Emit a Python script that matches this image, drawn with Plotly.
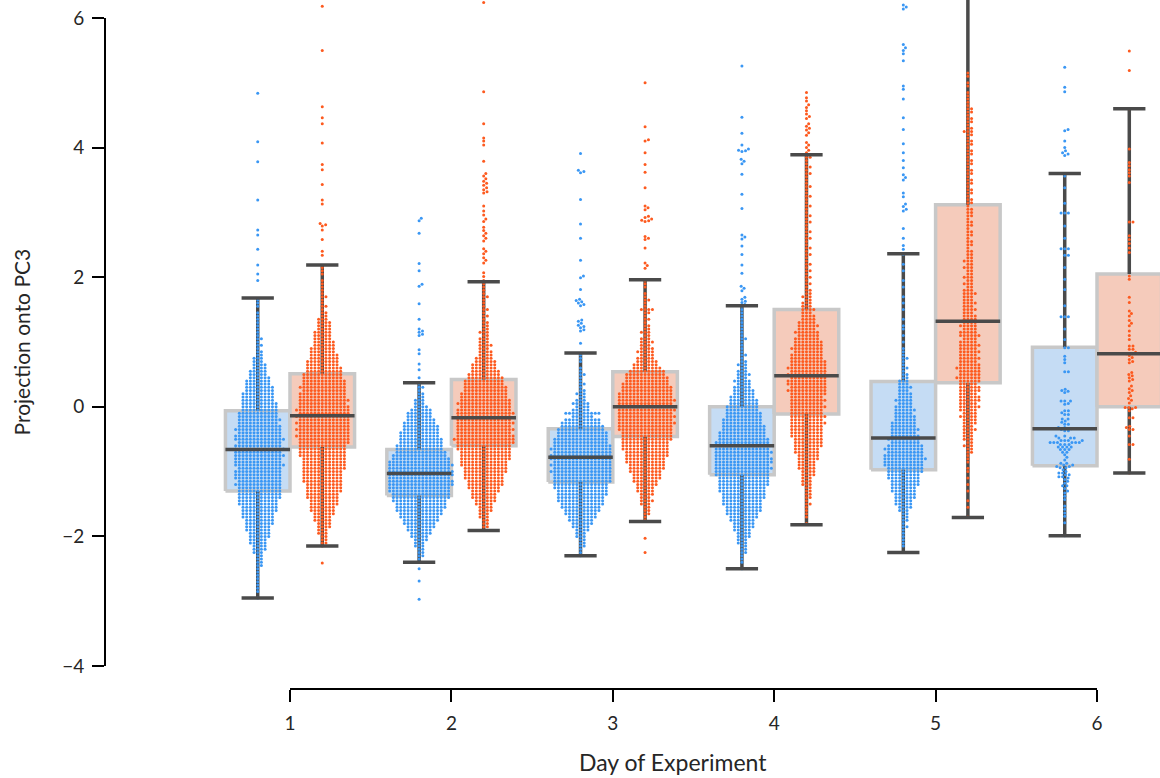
import numpy as np
import plotly.graph_objects as go

# ---------------- data ----------------
DAYS = [1, 2, 3, 4, 5, 6]
DAY_LABELS = ["1", "2", "3", "4", "5", "6"]
Y_TICKS = [-4, -2, 0, 2, 4, 6]
X_TITLE = "Day of Experiment"
Y_TITLE = "Projection onto PC3"
STEP = 0.05  # bin width of the per-bin point counts

# box statistics (blue group, orange group), days 1..6
BLUE_LOW = [-2.95, -2.40, -2.30, -2.50, -2.25, -1.99]
BLUE_Q1 = [-1.30, -1.37, -1.16, -1.05, -0.97, -0.91]
BLUE_MED = [-0.66, -1.03, -0.78, -0.60, -0.48, -0.34]
BLUE_Q3 = [-0.06, -0.66, -0.34, 0.00, 0.39, 0.92]
BLUE_HIGH = [1.68, 0.37, 0.83, 1.56, 2.36, 3.60]

ORANGE_LOW = [-2.15, -1.91, -1.77, -1.82, -1.71, -1.02]
ORANGE_Q1 = [-0.62, -0.60, -0.46, -0.11, 0.37, 0.00]
ORANGE_MED = [-0.14, -0.17, 0.00, 0.48, 1.32, 0.82]
ORANGE_Q3 = [0.51, 0.42, 0.54, 1.50, 3.12, 2.05]
ORANGE_HIGH = [2.19, 1.93, 1.96, 3.89, 7.10, 4.60]

# swarm points: counts per 0.05 bin starting at *_START, plus single points beyond
D1_BLUE_START = -2.95
D1_BLUE_COUNTS = [1, 0, 1, 1, 1, 1, 1, 1, 1, 1, 2, 2, 2, 2,
                  3, 4, 4, 5, 5, 6, 6,
                  7, 7, 8, 8, 9, 9,
                  10, 10, 11, 11, 12, 12,
                  12, 12, 13, 12, 13, 13,
                  13, 12, 14, 13, 13, 14, 13, 14, 13, 12, 14, 13,
                  12, 13, 12, 11, 12, 11, 11,
                  10, 10, 10, 9, 9,
                  9, 8, 8, 7, 7, 6,
                  5, 5, 4, 4, 3, 3,
                  2, 2, 1, 2, 1, 2, 1, 1, 1, 1, 1, 1, 1, 1, 0, 1, 1, 1]
D1_BLUE_EXTRA = [4.84, 4.09, 3.78, 3.19, 2.73, 2.65, 2.43, 2.19, 2.05, 1.95]

D1_ORANGE_START = -2.15
D1_ORANGE_COUNTS = [1, 2, 2, 2, 3,
                    3, 4, 4, 5, 5, 6,
                    7, 7, 8, 8, 9, 9,
                    10, 10, 10, 11, 11, 11,
                    11, 12, 12, 12, 12, 13, 13, 13,
                    13, 14, 14, 15, 14, 15, 14, 15, 14, 15,
                    14, 15, 14, 13, 14, 13, 13, 12, 13, 12, 12, 11, 11,
                    10, 10, 9, 9, 8,
                    8, 7, 7, 6, 6, 5, 5, 5, 4, 4, 4, 3,
                    2, 2, 1, 2, 1, 1, 2, 1, 1, 1, 1, 1, 0, 1, 1, 1]
D1_ORANGE_EXTRA = [6.18, 5.50, 4.63, 4.46, 4.37, 4.07, 3.74, 3.66, 3.43, 3.19,
                   3.13, 2.83, 2.81, 2.79, 2.73, 2.58, 2.40, 2.34, -2.41]

D2_BLUE_START = -2.40
D2_BLUE_COUNTS = [1, 1, 2, 2, 2, 3, 3, 4, 5,
                  6, 7, 8, 9, 10,
                  11, 12, 13, 14, 14, 15, 16,
                  16, 17, 17, 18, 18, 17, 18, 18, 17, 18, 17, 16, 15, 14,
                  13, 13, 12, 12, 11, 11, 10, 10, 9, 8, 7, 7, 6, 4, 3, 3, 2, 2, 1, 2, 1]
D2_BLUE_EXTRA = [-2.50, -2.69, -2.97, 2.91, 2.87, 2.68, 2.21, 2.10, 1.89, 1.86, 1.59,
                 1.35, 1.20, 1.17, 1.15, 1.12, 1.10, 0.88, 0.82, 0.66, 0.57, 0.45]

D2_ORANGE_START = -1.90
D2_ORANGE_COUNTS = [1, 2, 2, 2, 3, 3, 4, 4,
                    5, 6, 7, 7, 8, 9,
                    10, 10, 11, 11, 12, 12,
                    13, 13, 14, 14, 14, 15,
                    15, 16, 17, 16, 15, 16, 15, 16, 15,
                    15, 16, 15, 14, 15, 14, 13,
                    13, 12, 12, 11, 11, 10,
                    9, 8, 7, 7, 6, 5,
                    4, 4, 3, 4, 3, 3, 2, 3, 2, 2, 2, 1, 2, 1, 2, 1, 1, 1, 2, 1, 1, 1, 1]
D2_ORANGE_EXTRA = [6.24, 4.86, 4.37, 4.15, 4.10, 4.04, 3.79, 3.60, 3.56, 3.52, 3.48,
                   3.45, 3.42, 3.38, 3.35, 3.32, 3.30, 3.10, 3.02, 2.96, 2.90, 2.86,
                   2.77, 2.72, 2.68, 2.64, 2.60, 2.56, 2.44, 2.40, 2.36, 2.30, 2.26,
                   2.22, 2.07, 2.01, 1.95]

D3_BLUE_START = -2.30
D3_BLUE_COUNTS = [1, 1, 1, 2, 2, 2, 3, 3,
                  4, 5, 6, 7,
                  8, 9, 10,
                  11, 12, 13, 13,
                  14, 14, 15, 15, 16,
                  16, 16, 17, 16, 17, 16, 17,
                  17, 16, 17, 16, 15, 15, 14, 14, 13,
                  12, 11, 10,
                  6, 10, 5, 4,
                  5, 3, 2, 3, 2, 1, 2, 1, 1, 2, 1, 1, 0, 1, 1, 1]
D3_BLUE_EXTRA = [3.91, 3.65, 3.63, 3.61, 3.20, 2.82, 2.60, 2.26, 2.02, 1.99, 1.81,
                 1.66, 1.64, 1.62, 1.60, 1.58, 1.56, 1.34, 1.32, 1.29, 1.26, 1.24,
                 1.22, 1.19, 1.17, 0.98]

D3_ORANGE_START = -1.75
D3_ORANGE_COUNTS = [1, 1, 2, 2, 2, 3, 4, 3,
                    4, 5, 5, 6, 7,
                    8, 8, 9, 10, 10,
                    11, 11, 12, 12, 13,
                    13, 13, 14, 14, 14,
                    15, 15, 16, 15, 16, 15, 16, 15,
                    15, 16, 15, 15, 14, 14, 13,
                    12, 12, 11, 10, 8, 7,
                    6, 5, 4, 5, 4, 3, 4, 3, 2, 3,
                    2, 2, 1, 2, 1, 2, 4, 1, 1, 2, 1, 1, 0, 1, 1, 1]
D3_ORANGE_EXTRA = [5.00, 4.32, 4.12, 4.10, 3.92, 3.74, 3.62, 3.38, 3.10, 3.07, 3.04,
                   2.94, 2.92, 2.90, 2.88, 2.87, 2.86, 2.63, 2.60, 2.58, 2.45, 2.22,
                   2.18, 2.14, -2.03, -2.25]

D4_BLUE_START = -2.50
D4_BLUE_COUNTS = [1, 0, 1, 1, 1, 2, 2, 2, 3,
                  3, 4, 4, 5, 6, 6, 7, 8,
                  9, 10, 10, 11, 11, 12,
                  12, 13, 13, 14, 14,
                  14, 15, 15, 16, 15, 16,
                  16, 15, 16, 15, 14, 15, 14, 13, 13, 12,
                  12, 11, 11, 10, 10, 9, 9,
                  8, 8, 7, 6, 6, 5,
                  4, 5, 3, 4, 3, 2, 3, 2,
                  1, 2, 1, 1, 1, 1, 2, 1, 1, 1, 1, 1, 1, 1, 1, 1, 1]
D4_BLUE_EXTRA = [5.26, 4.47, 4.22, 4.04, 3.98, 3.96, 3.95, 3.94, 3.82, 3.79, 3.75,
                 3.59, 3.28, 3.06, 2.65, 2.62, 2.59, 2.48, 2.35, 2.19, 2.06, 1.86,
                 1.83, 1.79, 1.69, 1.66, 1.63, 1.61, 1.58]

D4_ORANGE_START = -1.80
D4_ORANGE_COUNTS = [1, 0, 1, 1, 1, 1, 2, 1, 2, 2, 2, 2, 3, 3,
                    3, 4, 4, 5, 5, 5, 6, 6,
                    7, 7, 8, 8, 8, 9,
                    9, 9, 9, 10, 9, 10,
                    9, 9, 10, 9, 10, 9, 10,
                    11, 10, 11, 11, 10, 11, 10, 11, 10, 10,
                    9, 9, 8, 9, 8, 8,
                    7, 6, 7, 5, 6, 5, 4,
                    4, 3, 4, 3, 3, 2, 3, 2,
                    2, 1, 2, 1, 2, 1, 2, 1, 2, 1, 1, 2, 1, 2, 1, 1, 2, 1, 2, 1, 1, 2,
                    1, 2, 1, 1, 2, 1, 1, 2, 1, 1, 2, 1, 1, 1, 2, 1, 2, 1, 1, 2]
D4_ORANGE_EXTRA = [4.85, 4.77, 4.72, 4.66, 4.62, 4.57, 4.52, 4.48, 4.45, 4.37, 4.33,
                   4.30, 4.27, 4.23, 4.19, 4.08, 4.04, 4.00, 3.96, 3.92]

D5_BLUE_START = -2.25
D5_BLUE_COUNTS = [1, 0, 1, 1, 1, 1, 1, 1, 2, 1, 2, 2, 2, 3,
                  4, 5, 5, 6, 6, 7,
                  7, 8, 8, 9, 9, 10, 10,
                  11, 11, 12, 11, 10, 11, 10,
                  8, 9, 8, 7, 8, 7, 7, 6,
                  6, 5, 6, 5, 4, 5, 4, 4, 3, 4, 3, 3,
                  2, 2, 1, 2, 1, 1, 2, 1, 1,
                  1, 0, 1, 0, 1, 0, 1, 1, 0, 1, 0, 0, 1, 0, 1, 0, 1, 0, 0, 1,
                  0, 1, 0, 0, 1, 0, 1, 0, 0, 1]
D5_BLUE_EXTRA = [6.20, 6.17, 6.14, 5.59, 5.54, 5.50, 5.45, 5.34, 4.95, 4.90, 4.75,
                 4.46, 4.28, 4.06, 3.92, 3.80, 3.69, 3.58, 3.54, 3.50, 3.30, 3.24,
                 3.13, 3.09, 3.05, 3.02, 2.75, 2.60, 2.49, 2.43]

D5_ORANGE_START = -1.70
D5_ORANGE_COUNTS = [1, 0, 0, 1, 0, 1, 0, 0, 1, 0, 1, 0, 1, 0, 1, 1, 0, 1, 1, 1,
                    2, 2, 3, 2, 3, 3, 3, 4, 3, 4, 4,
                    5, 4, 5, 6, 5, 6, 6, 5, 6, 6, 5,
                    6, 7, 6, 6, 7, 6, 5, 6, 5, 6, 5, 6,
                    5, 4, 6, 5, 4, 5, 4, 4,
                    4, 3, 4, 3, 4, 3, 3, 4, 3,
                    2, 3, 2, 3, 2, 2, 3, 2, 3, 2, 2,
                    2, 1, 2, 2, 1, 2, 2, 1, 2, 2, 1, 2, 2, 2, 1,
                    2, 2, 1, 2, 2, 1, 2, 2, 1, 2, 2, 1, 2, 2, 1, 2, 2, 1,
                    2, 2, 1, 2, 3, 2, 1, 2, 2, 1, 2, 2, 1,
                    1, 1, 1, 1, 0, 1, 1, 0, 1, 1]
D5_ORANGE_EXTRA = [6.60, 7.10]

D6_BLUE_VALUES = [3.60, 3.56, 3.38, 3.14, 2.99, 2.99, 2.99, 2.79, 2.60, 2.44, 2.44,
                  2.44, 2.34, 2.34, 2.15, 1.97, 1.81, 1.56, 1.39, 1.39, 1.39, 1.20,
                  1.04, 0.91, 0.91, 0.78, 0.73, 0.68, 0.54, 0.54, 0.27, 0.25, 0.24,
                  0.22, 0.09, 0.09, 0.09, 0.05, 0.04, -0.06, -0.06, -0.09, -0.12,
                  -0.12, -0.19, -0.19, -0.22, -0.24, -0.27, -0.27, -0.32, -0.32,
                  -0.34, -0.35, -0.37, -0.37, -0.45, -0.45, -0.48, -0.48, -0.48,
                  -0.52, -0.52, -0.52, -0.52, -0.55, -0.55, -0.55, -0.55, -0.55,
                  -0.55, -0.58, -0.58, -0.58, -0.62, -0.62, -0.62, -0.62, -0.66,
                  -0.66, -0.66, -0.70, -0.70, -0.74, -0.78, -0.82, -0.87, -0.87,
                  -0.90, -0.90, -0.92, -0.92, -0.94, -0.94, -0.97, -1.00, -1.02,
                  -1.02, -1.05, -1.05, -1.08, -1.08, -1.10, -1.12, -1.15, -1.18,
                  -1.22, -1.22, -1.26, -1.30, -1.33, -1.38, -1.43, -1.53, -1.58,
                  -1.64, -1.69, -1.79, -1.99,
                  5.24, 4.93, 4.86, 4.28, 4.26, 4.10, 4.00, 3.95, 3.92, 3.90, 3.88]

D6_ORANGE_VALUES = [5.49, 5.19, 4.60, 3.98, 3.77, 3.72, 3.66, 3.61, 3.56, 3.46, 2.85,
                    2.85, 2.64, 2.58, 2.52, 2.45, 2.38, 2.02, 1.97, 1.69, 1.61, 1.48,
                    1.44, 1.40, 1.33, 1.29, 1.25, 1.17, 1.10, 1.04, 0.94, 0.94, 0.89,
                    0.89, 0.84, 0.82, 0.82, 0.79, 0.76, 0.73, 0.70, 0.68, 0.53, 0.50,
                    0.48, 0.45, 0.42, 0.40, 0.32, 0.28, 0.25, 0.22, 0.17, 0.13, 0.10,
                    0.06, -0.01, -0.01, -0.01, -0.03, -0.06, -0.17, -0.17, -0.30,
                    -0.32, -0.35, -0.35, -0.45, -0.58, -0.58, -0.81, -1.02]

# ---------------- layout / style ----------------
W, H = 1160, 778
ML, MR, MT, MB = 105, 0, 0, 89
X_RANGE = [-0.1462, 6.3903]
Y_RANGE = [-4.3549, 6.2778]
HUE_OFFSET = 0.2
BOX_W = 0.4
CAP_W = 0.2
DOT_D = 3.2      # swarm collision diameter in px
X_SPREAD = 1.15  # horizontal spacing factor of the swarm
DOT_SIZE = 3.0
BLUE = "#3a97f4"
ORANGE = "#fd5a1f"
BLUE_FILL = "#c5dcf4"
ORANGE_FILL = "#f5cbbb"
EDGE = "#c8c8c8"
WHISK = "#4a4a4a"
FONT = "Lato"
TXT = "#262626"

PLOT_W = W - ML - MR
PLOT_H = H - MT - MB
SX = PLOT_W / (X_RANGE[1] - X_RANGE[0])
SY = PLOT_H / (Y_RANGE[1] - Y_RANGE[0])


def expand(start, counts, extra):
    vals = []
    for i, c in enumerate(counts):
        vals += [round(start + i * STEP, 3)] * c
    return vals + list(extra)


BLUE_POINTS = [
    expand(D1_BLUE_START, D1_BLUE_COUNTS, D1_BLUE_EXTRA),
    expand(D2_BLUE_START, D2_BLUE_COUNTS, D2_BLUE_EXTRA),
    expand(D3_BLUE_START, D3_BLUE_COUNTS, D3_BLUE_EXTRA),
    expand(D4_BLUE_START, D4_BLUE_COUNTS, D4_BLUE_EXTRA),
    expand(D5_BLUE_START, D5_BLUE_COUNTS, D5_BLUE_EXTRA),
    list(D6_BLUE_VALUES),
]
ORANGE_POINTS = [
    expand(D1_ORANGE_START, D1_ORANGE_COUNTS, D1_ORANGE_EXTRA),
    expand(D2_ORANGE_START, D2_ORANGE_COUNTS, D2_ORANGE_EXTRA),
    expand(D3_ORANGE_START, D3_ORANGE_COUNTS, D3_ORANGE_EXTRA),
    expand(D4_ORANGE_START, D4_ORANGE_COUNTS, D4_ORANGE_EXTRA),
    expand(D5_ORANGE_START, D5_ORANGE_COUNTS, D5_ORANGE_EXTRA),
    list(D6_ORANGE_VALUES),
]


def swarm(values, center):
    """beeswarm layout (greedy, closest-to-centre) in pixel space"""
    vals = np.sort(np.asarray(values, float))
    ys = vals * SY
    xs = np.zeros(len(vals))
    lo = 0
    d2 = DOT_D ** 2
    for i in range(len(vals)):
        y = ys[i]
        while lo < i and ys[lo] < y - DOT_D:
            lo += 1
        nx = xs[lo:i]
        dy = ys[lo:i] - y
        if len(nx) == 0:
            xs[i] = 0.0
            continue
        off = np.sqrt(np.maximum(d2 - dy ** 2, 0))
        cand = np.concatenate([[0.0], nx + off, nx - off])
        bad = ((cand[:, None] - nx[None, :]) ** 2 + dy[None, :] ** 2) < d2 - 1e-6
        ok = ~bad.any(axis=1)
        c = cand[ok]
        xs[i] = c[np.argmin(np.abs(c))]
    return center + xs * X_SPREAD / SX, vals


def seg(xs_list, ys_list):
    X, Y = [], []
    for xs, ys in zip(xs_list, ys_list):
        X += list(xs) + [None]
        Y += list(ys) + [None]
    return X, Y


fig = go.Figure()

hues = [
    (-HUE_OFFSET, BLUE, BLUE_FILL, BLUE_LOW, BLUE_Q1, BLUE_MED, BLUE_Q3, BLUE_HIGH, BLUE_POINTS),
    (HUE_OFFSET, ORANGE, ORANGE_FILL, ORANGE_LOW, ORANGE_Q1, ORANGE_MED, ORANGE_Q3, ORANGE_HIGH, ORANGE_POINTS),
]

# boxes
for off, col, fill, lo_, q1, med, q3, hi, pts in hues:
    bx, by = [], []
    for k, d in enumerate(DAYS):
        c = d + off
        bx.append([c - BOX_W / 2, c + BOX_W / 2, c + BOX_W / 2, c - BOX_W / 2, c - BOX_W / 2])
        by.append([q1[k], q1[k], q3[k], q3[k], q1[k]])
    X, Y = seg(bx, by)
    fig.add_trace(go.Scatter(x=X, y=Y, mode="lines", fill="toself", fillcolor=fill,
                             line=dict(color=EDGE, width=3.5), hoverinfo="skip",
                             showlegend=False))

# whiskers (vertical parts)
for off, col, fill, lo_, q1, med, q3, hi, pts in hues:
    wx, wy = [], []
    for k, d in enumerate(DAYS):
        c = d + off
        wx += [[c, c], [c, c]]
        wy += [[q3[k], hi[k]], [q1[k], lo_[k]]]
    X, Y = seg(wx, wy)
    fig.add_trace(go.Scatter(x=X, y=Y, mode="lines", line=dict(color=WHISK, width=3.5),
                             hoverinfo="skip", showlegend=False))

# swarm points
for off, col, fill, lo_, q1, med, q3, hi, pts in hues:
    PX, PY = [], []
    for k, d in enumerate(DAYS):
        x, y = swarm(pts[k], d + off)
        PX += list(x)
        PY += list(y)
    fig.add_trace(go.Scatter(x=PX, y=PY, mode="markers",
                             marker=dict(color=col, size=DOT_SIZE, line=dict(width=0)),
                             showlegend=False))

# caps and medians
for off, col, fill, lo_, q1, med, q3, hi, pts in hues:
    lx, ly = [], []
    for k, d in enumerate(DAYS):
        c = d + off
        lx += [[c - CAP_W / 2, c + CAP_W / 2], [c - CAP_W / 2, c + CAP_W / 2],
               [c - BOX_W / 2, c + BOX_W / 2]]
        ly += [[hi[k], hi[k]], [lo_[k], lo_[k]], [med[k], med[k]]]
    X, Y = seg(lx, ly)
    fig.add_trace(go.Scatter(x=X, y=Y, mode="lines", line=dict(color=WHISK, width=3.5),
                             hoverinfo="skip", showlegend=False))

# trimmed spines
fig.add_shape(type="line", xref="x", yref="paper", x0=DAYS[0], x1=DAYS[-1], y0=0, y1=0,
              line=dict(color="black", width=2))
fig.add_shape(type="line", xref="paper", yref="y", x0=0, x1=0, y0=Y_TICKS[0], y1=Y_TICKS[-1],
              line=dict(color="black", width=2))

fig.update_layout(
    width=W, height=H, autosize=False,
    margin=dict(l=ML, r=MR, t=MT, b=MB, pad=0),
    paper_bgcolor="white", plot_bgcolor="white",
    font=dict(family=FONT, size=19, color=TXT),
    showlegend=False,
    xaxis=dict(range=X_RANGE, tickvals=DAYS, ticktext=DAY_LABELS, ticks="outside",
               ticklen=12, tickwidth=2, tickcolor="black", showgrid=False,
               zeroline=False, showline=False, tickfont=dict(size=19, color=TXT),
               ticklabelstandoff=5),
    yaxis=dict(range=Y_RANGE, tickvals=Y_TICKS, ticks="outside", ticklen=12,
               tickwidth=2, tickcolor="black", showgrid=False, zeroline=False,
               showline=False, tickfont=dict(size=19, color=TXT), ticklabelstandoff=4),
    annotations=[
        dict(text=X_TITLE, xref="paper", yref="paper", x=0.5384, y=-0.106,
             xanchor="center", yanchor="middle", showarrow=False,
             font=dict(size=23, color=TXT, family=FONT)),
        dict(text=Y_TITLE, xref="paper", yref="paper", x=-0.0796, y=0.503,
             xanchor="center", yanchor="middle", showarrow=False, textangle=-90,
             font=dict(size=21, color=TXT, family=FONT)),
    ],
)

fig.write_html("out.html", config={"displayModeBar": False},
               post_script="document.body.style.margin='0px';")
